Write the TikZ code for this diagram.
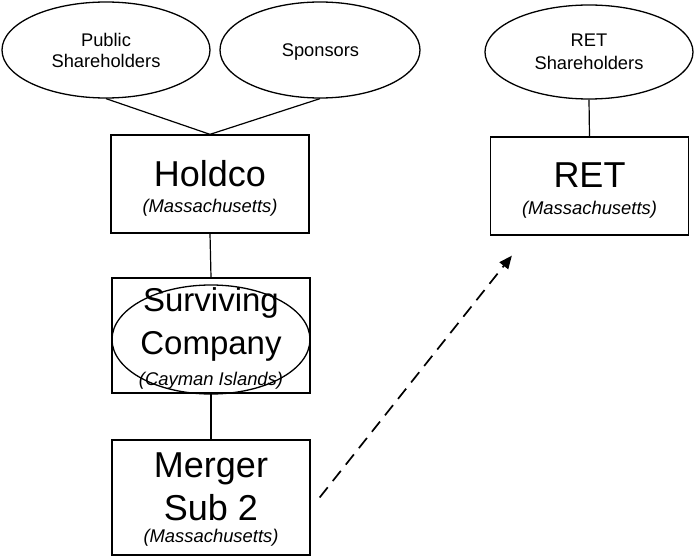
\documentclass[tikz,border=0pt]{standalone}
\usepackage{fontspec}
\setmainfont{Liberation Sans}
\usetikzlibrary{shapes.geometric,arrows.meta}
\tikzset{
  x=1pt,y=-1pt,
  box/.style={draw,rectangle,inner sep=0pt,line width=1.3pt},
  oval/.style={draw,ellipse,inner sep=0pt,line width=1.3pt},
  big/.style={anchor=base,inner sep=0pt,font=\fontsize{36}{36}\selectfont},
  mid/.style={anchor=base,inner sep=0pt,font=\fontsize{33}{33}\selectfont},
  small/.style={anchor=base,inner sep=0pt,font=\fontsize{18.3}{18}\selectfont},
  place/.style={anchor=base,inner sep=0pt,font=\fontsize{18.4}{18}\selectfont\itshape},
  link/.style={draw,line width=1.2pt},
  move/.style={draw,line width=1.7pt,dash pattern=on 13pt off 8pt,-{Triangle[length=13pt,width=11pt]}}
}
\begin{document}
\begin{tikzpicture}
\useasboundingbox (0,0) rectangle (694,556);
% shapes
\node[oval,minimum width=208pt,minimum height=96pt] (pub) at (106,50) {};
\node[oval,minimum width=200pt,minimum height=96pt] (spon) at (320,50) {};
\node[oval,minimum width=208pt,minimum height=94pt] (retsh) at (589,52) {};
\node[box,minimum width=198pt,minimum height=98pt] (holdco) at (210,184) {};
\node[box,minimum width=198pt,minimum height=98pt] (ret) at (589.5,186) {};
\node[box,minimum width=198pt,minimum height=115pt] (surv) at (211,335.5) {};
\node[oval,minimum width=198pt,minimum height=109pt] (survell) at (211,339.5) {};
\node[box,minimum width=198pt,minimum height=115pt] (merger) at (211,497.5) {};
% texts
\node[small] (t1) at (106,47) {Public};
\node[small] (t2) at (106,68) {Shareholders};
\node[small] (t3) at (320.5,57) {Sponsors};
\node[small] (t4) at (589,47) {RET};
\node[small] (t5) at (589,70) {Shareholders};
\node[big] (t6) at (210,187) {Holdco};
\node[place] (t7) at (210,213) {(Massachusetts)};
\node[big] (t8) at (589.5,188) {RET};
\node[place] (t9) at (589.5,215) {(Massachusetts)};
\node[mid] (t10) at (211,312) {Surviving};
\node[mid] (t11) at (211,355) {Company};
\node[place] (t12) at (211,385) {(Cayman Islands)};
\node[big] (t13) at (211,477) {Merger};
\node[big] (t14) at (211,520) {Sub 2};
\node[place] (t15) at (211,542) {(Massachusetts)};
% connectors
\draw[link] (pub.south) -- (holdco.north);
\draw[link] (spon.south) -- (holdco.north);
\draw[link] (holdco.south) -- (surv.north);
\draw[link] (surv.south) -- (merger.north);
\draw[link] (retsh.south) -- (ret.north);
\coordinate (mstart) at ([xshift=9pt]merger.east);
\coordinate (mend) at ([xshift=22pt,yshift=-20pt]ret.south west);
\draw[move] (mstart) -- (mend);
\end{tikzpicture}
\end{document}
